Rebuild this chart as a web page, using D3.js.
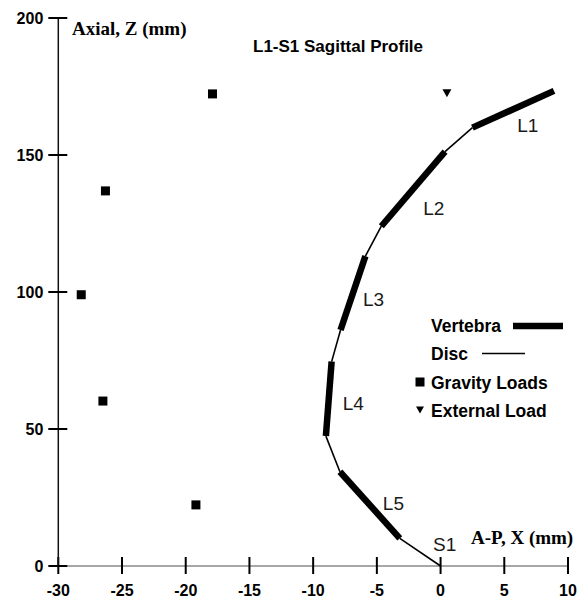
<!DOCTYPE html>
<html>
<head>
<meta charset="utf-8">
<script src="https://cdn.jsdelivr.net/npm/d3@7"></script>
<style>
  body { margin: 0; background: #fff; }
  svg { display: block; }
</style>
</head>
<body>
<div id="wrapper"></div>
<script>
// vertebral bodies: top (cranial) and bottom (caudal) end points, mm
const vertebraNames = ["L1", "L2", "L3", "L4", "L5"]
const vertebraTopX = [8.9, 0.35, -5.9, -8.55, -7.9]
const vertebraTopZ = [173.4, 151.2, 113.1, 74.6, 34.4]
const vertebraBottomX = [2.5, -4.65, -7.85, -9.0, -3.2]
const vertebraBottomZ = [160.0, 124.0, 86.1, 47.4, 10.1]

// sacrum reference point
const sacrumName = "S1"
const sacrumX = 0
const sacrumZ = 0

// load points
const gravityX = [-17.9, -26.3, -28.2, -26.5, -19.2]
const gravityZ = [172.3, 136.9, 99.0, 60.2, 22.3]
const externalX = [0.5]
const externalZ = [172.5]

// axis ticks
const xTicks = [-30, -25, -20, -15, -10, -5, 0, 5, 10]
const yTicks = [0, 50, 100, 150, 200]

const titleText = "L1-S1 Sagittal Profile"
const xAxisLabelText = "A-P, X (mm)"
const yAxisLabelText = "Axial, Z (mm)"
const legendItems = ["Vertebra", "Disc", "Gravity Loads", "External Load"]

function drawChart() {

    /* dimensions */
    const dimensions = { width: 582, height: 601 }

    const wrapper = d3.select("#wrapper")
        .append("svg")
        .attr("width", dimensions.width)
        .attr("height", dimensions.height)

    /* scales */
    const xScale = d3.scaleLinear()
        .domain([-30, 10])
        .range([58.3, 568])

    const yScale = d3.scaleLinear()
        .domain([0, 200])
        .range([566, 18])

    const sans = "Arial, 'Liberation Sans', sans-serif"
    const serif = "'Times New Roman', 'Liberation Serif', serif"

    /* axes */
    const xAxis = wrapper.append("g")
    xAxis.append("line")
        .attr("x1", 50).attr("x2", xScale(10))
        .attr("y1", yScale(0)).attr("y2", yScale(0))
        .attr("stroke", "#8a8a8a")
        .attr("stroke-width", 1.6)
    xAxis.selectAll(".xtick")
        .data(xTicks)
        .join("line")
        .attr("class", "xtick")
        .attr("x1", d => xScale(d)).attr("x2", d => xScale(d))
        .attr("y1", yScale(0) - 9).attr("y2", yScale(0) + 8)
        .attr("stroke", "#000")
        .attr("stroke-width", 2)
    xAxis.selectAll(".xlabel")
        .data(xTicks)
        .join("text")
        .attr("class", "xlabel")
        .attr("x", d => xScale(d))
        .attr("y", yScale(0) + 30)
        .attr("text-anchor", "middle")
        .style("font-family", sans)
        .style("font-weight", "bold")
        .style("font-size", "16px")
        .text(d => d)

    const yAxis = wrapper.append("g")
    yAxis.append("line")
        .attr("x1", xScale(-30)).attr("x2", xScale(-30))
        .attr("y1", yScale(200)).attr("y2", yScale(0))
        .attr("stroke", "#111")
        .attr("stroke-width", 1.5)
    yAxis.selectAll(".ytick")
        .data(yTicks)
        .join("line")
        .attr("class", "ytick")
        .attr("x1", xScale(-30) - 10).attr("x2", xScale(-30) + 9)
        .attr("y1", d => yScale(d)).attr("y2", d => yScale(d))
        .attr("stroke", "#000")
        .attr("stroke-width", 2)
    yAxis.selectAll(".ylabel")
        .data(yTicks)
        .join("text")
        .attr("class", "ylabel")
        .attr("x", xScale(-30) - 15)
        .attr("y", d => yScale(d) + 6)
        .attr("text-anchor", "end")
        .style("font-family", sans)
        .style("font-weight", "bold")
        .style("font-size", "16px")
        .text(d => d)

    wrapper.append("text")
        .attr("x", 72)
        .attr("y", 35)
        .style("font-family", serif)
        .style("font-weight", "bold")
        .style("font-size", "19px")
        .text(yAxisLabelText)

    wrapper.append("text")
        .attr("x", 471)
        .attr("y", 544)
        .style("font-family", serif)
        .style("font-weight", "bold")
        .style("font-size", "19px")
        .text(xAxisLabelText)

    wrapper.append("text")
        .attr("x", 253)
        .attr("y", 51.5)
        .style("font-family", sans)
        .style("font-weight", "bold")
        .style("font-size", "17px")
        .text(titleText)

    /* spine */
    const spine = vertebraNames.map((name, i) => ({
        name,
        x1: vertebraTopX[i], z1: vertebraTopZ[i],
        x2: vertebraBottomX[i], z2: vertebraBottomZ[i],
    }))

    const discs = spine.map((d, i) => {
        const next = spine[i + 1]
        return {
            x1: d.x2, z1: d.z2,
            x2: next ? next.x1 : sacrumX,
            z2: next ? next.z1 : sacrumZ,
        }
    })

    wrapper.append("g").selectAll("line")
        .data(discs)
        .join("line")
        .attr("x1", d => xScale(d.x1)).attr("y1", d => yScale(d.z1))
        .attr("x2", d => xScale(d.x2)).attr("y2", d => yScale(d.z2))
        .attr("stroke", "#000")
        .attr("stroke-width", 1.6)

    wrapper.append("g").selectAll("line")
        .data(spine)
        .join("line")
        .attr("x1", d => xScale(d.x1)).attr("y1", d => yScale(d.z1))
        .attr("x2", d => xScale(d.x2)).attr("y2", d => yScale(d.z2))
        .attr("stroke", "#000")
        .attr("stroke-width", 6.5)

    // label offsets from each vertebra midpoint, in px
    const labelOffsets = [[4, 23], [10, 26], [10, 13], [14, 11], [13, 5]]
    const labelStyle = sel => sel
        .style("font-family", sans)
        .style("font-size", "19px")
        .attr("fill", "#1a1a1a")

    wrapper.append("g").selectAll("text")
        .data(spine)
        .join("text")
        .attr("x", (d, i) => (xScale(d.x1) + xScale(d.x2)) / 2 + labelOffsets[i][0])
        .attr("y", (d, i) => (yScale(d.z1) + yScale(d.z2)) / 2 + labelOffsets[i][1])
        .call(labelStyle)
        .text(d => d.name)

    wrapper.append("text")
        .attr("x", xScale(sacrumX) - 7.5)
        .attr("y", yScale(sacrumZ) - 15)
        .call(labelStyle)
        .text(sacrumName)

    /* loads */
    const squareSize = 9
    wrapper.append("g").selectAll("rect")
        .data(gravityX.map((x, i) => [x, gravityZ[i]]))
        .join("rect")
        .attr("x", d => xScale(d[0]) - squareSize / 2)
        .attr("y", d => yScale(d[1]) - squareSize / 2)
        .attr("width", squareSize)
        .attr("height", squareSize)
        .attr("fill", "#000")

    const triangle = (cx, cy, w, h) =>
        `M${cx - w / 2},${cy - h / 2}L${cx + w / 2},${cy - h / 2}L${cx},${cy + h / 2}Z`

    wrapper.append("g").selectAll("path")
        .data(externalX.map((x, i) => [x, externalZ[i]]))
        .join("path")
        .attr("d", d => triangle(xScale(d[0]), yScale(d[1]), 9, 8))
        .attr("fill", "#000")

    /* legend */
    const legend = wrapper.append("g")
    const legendX = 431
    const legendY = [331.5, 360, 388.5, 417]

    legend.selectAll("text")
        .data(legendItems)
        .join("text")
        .attr("x", legendX)
        .attr("y", (d, i) => legendY[i])
        .style("font-family", sans)
        .style("font-weight", "bold")
        .style("font-size", "17.5px")
        .text(d => d)

    legend.append("line")
        .attr("x1", 513).attr("x2", 563)
        .attr("y1", legendY[0] - 5.5).attr("y2", legendY[0] - 5.5)
        .attr("stroke", "#000")
        .attr("stroke-width", 6.5)

    legend.append("line")
        .attr("x1", 482).attr("x2", 525)
        .attr("y1", legendY[1] - 6.5).attr("y2", legendY[1] - 6.5)
        .attr("stroke", "#000")
        .attr("stroke-width", 1.6)

    legend.append("rect")
        .attr("x", 420 - squareSize / 2)
        .attr("y", legendY[2] - 6.5 - squareSize / 2)
        .attr("width", squareSize)
        .attr("height", squareSize)
        .attr("fill", "#000")

    legend.append("path")
        .attr("d", triangle(420, legendY[3] - 7, 8, 7))
        .attr("fill", "#000")
}
drawChart()
</script>
</body>
</html>
